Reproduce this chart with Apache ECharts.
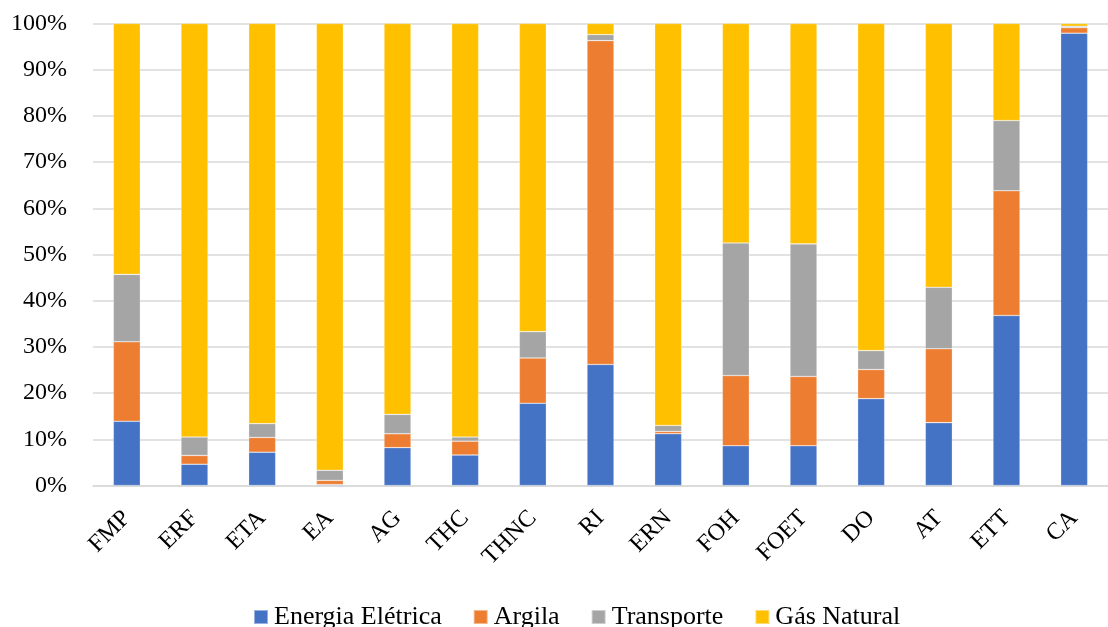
<!DOCTYPE html>
<html>
<head>
<meta charset="utf-8">
<script src="https://cdn.jsdelivr.net/npm/echarts@6/dist/echarts.min.js"></script>
<style>
  html, body { margin: 0; padding: 0; background: #fff; }
  #chart { width: 1108px; height: 627px; }
</style>
</head>
<body>
<div id="chart"></div>
<script>
// Share of each input (%) per process
const categories = ['FMP', 'ERF', 'ETA', 'EA', 'AG', 'THC', 'THNC', 'RI', 'ERN', 'FOH', 'FOET', 'DO', 'AT', 'ETT', 'CA'];
const energiaEletrica = [13.9, 4.6, 7.2, 0.2, 8.2, 6.6, 17.8, 26.2, 11.2, 8.6, 8.6, 18.8, 13.6, 36.8, 97.9];
const argila          = [17.2, 1.9, 3.2, 0.9, 3.0, 3.0, 9.8, 70.1, 0.5, 15.2, 15.0, 6.3, 16.0, 27.0, 1.2];
const transporte      = [14.6, 4.0, 3.0, 2.2, 4.2, 0.9, 5.7, 1.3, 1.3, 28.7, 28.7, 4.1, 13.3, 15.2, 0.3];
const gasNatural      = [54.3, 89.5, 86.6, 96.7, 84.6, 89.5, 66.7, 2.4, 87.0, 47.5, 47.7, 70.8, 57.1, 21.0, 0.6];

const seriesNames = ['Energia Elétrica', 'Argila', 'Transporte', 'Gás Natural'];
const seriesData = [energiaEletrica, argila, transporte, gasNatural];
const colors = ['#4472C4', '#ED7D31', '#A5A5A5', '#FFC000'];

const serif = '"Liberation Serif", "Times New Roman", serif';

const chart = echarts.init(document.getElementById('chart'));
chart.setOption({
  animation: false,
  color: colors,
  textStyle: { fontFamily: serif, color: '#000' },
  grid: { left: 93, right: -14, top: 23.5, bottom: 141.5, containLabel: false },
  legend: {
    top: 599,
    left: 248,
    itemWidth: 14,
    itemHeight: 14,
    itemGap: 31,
    icon: 'rect',
    textStyle: { fontFamily: serif, fontSize: 26, color: '#000', padding: [0, 0, 0, 1] },
    data: seriesNames
  },
  xAxis: {
    type: 'category',
    data: categories,
    axisLine: { show: true, lineStyle: { color: '#D9D9D9', width: 1.5 } },
    axisTick: { show: false },
    axisLabel: {
      rotate: 45, fontSize: 24, color: '#000', fontFamily: serif,
      margin: 29, interval: 0
    }
  },
  yAxis: {
    type: 'value',
    min: 0,
    max: 100,
    interval: 10,
    axisLine: { show: false },
    axisTick: { show: false },
    splitLine: { lineStyle: { color: '#D9D9D9', width: 1.5 } },
    axisLabel: { formatter: '{value}%', fontSize: 24, color: '#000', fontFamily: serif, margin: 26 }
  },
  series: seriesData.map((d, i) => ({
    name: seriesNames[i],
    type: 'bar',
    stack: 'total',
    barWidth: 27,
    data: d,
    itemStyle: { color: colors[i], borderColor: 'rgba(255,255,255,0.45)', borderWidth: 0.6 }
  }))
});
</script>
</body>
</html>
